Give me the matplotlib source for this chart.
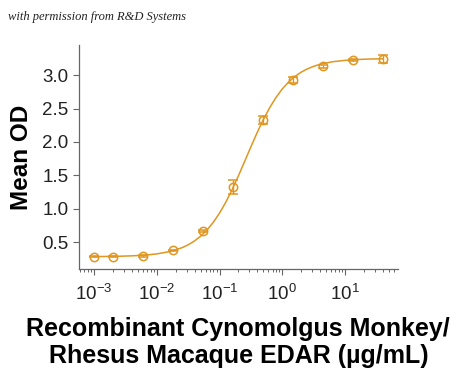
import numpy as np
import matplotlib
matplotlib.use("Agg")
import matplotlib.pyplot as plt
from matplotlib.ticker import LogLocator, NullFormatter

plt.rcParams['font.family'] = ['Liberation Sans', 'DejaVu Sans']
plt.rcParams['mathtext.default'] = 'regular'

# [Data]______________________________________________________________________
conc = [0.001, 0.002, 0.0061, 0.0183, 0.0549, 0.165, 0.494, 1.48, 4.44, 13.3, 40]
od = [0.28, 0.28, 0.29, 0.375, 0.665, 1.32, 2.33, 2.925, 3.13, 3.22, 3.235]
err = [0.01, 0.01, 0.01, 0.01, 0.02, 0.105, 0.055, 0.045, 0.025, 0.015, 0.06]

# fitted curve
curve_logx = [-3.0, -2.8, -2.6, -2.4, -2.2, -2.0, -1.8, -1.6, -1.5, -1.4, -1.3, -1.2, -1.1,
              -1.0, -0.9, -0.8, -0.7, -0.6, -0.5, -0.4, -0.3, -0.2, -0.1, 0.0, 0.1, 0.2,
              0.3, 0.4, 0.5, 0.6, 0.8, 1.0, 1.2, 1.4, 1.6]
curve_od = [0.282, 0.284, 0.287, 0.293, 0.303, 0.322, 0.356, 0.414, 0.458, 0.515, 0.588, 0.680,
            0.794, 0.933, 1.096, 1.283, 1.489, 1.706, 1.926, 2.139, 2.337, 2.513, 2.665, 2.793,
            2.896, 2.979, 3.044, 3.094, 3.132, 3.162, 3.201, 3.222, 3.235, 3.242, 3.245]

col = '#E0961F'

# [Plot]______________________________________________________________________
fig = plt.figure(figsize=(4.5, 3.7), dpi=100)
ax = fig.add_axes([0.1756, 0.273, 0.708, 0.605])

ax.plot([10 ** v for v in curve_logx], curve_od, color=col, lw=1.1)
ax.errorbar(conc, od, yerr=err, fmt='o', mfc='none', mec=col, ecolor=col, mew=1.1,
            ms=6, capsize=3.5, elinewidth=1.0, capthick=1.0)

ax.set_xscale('log')
ax.set_xlim(10 ** -3.24, 10 ** 1.84)
ax.set_ylim(0.096, 3.45)
ax.set_yticks([0.5, 1.0, 1.5, 2.0, 2.5, 3.0])
ax.set_yticklabels(['0.5', '1.0', '1.5', '2.0', '2.5', '3.0'])
ax.xaxis.set_major_locator(LogLocator(base=10, numticks=10))
ax.xaxis.set_minor_locator(LogLocator(base=10, subs=np.arange(2, 10), numticks=20))
ax.xaxis.set_minor_formatter(NullFormatter())

for s in ['top', 'right']:
    ax.spines[s].set_visible(False)
for s in ['left', 'bottom']:
    ax.spines[s].set_color('#666666')
    ax.spines[s].set_linewidth(0.9)

ax.tick_params(axis='y', which='major', length=4, width=0.8, color='#666666',
               labelsize=13.5, labelcolor='#222222')
ax.tick_params(axis='x', which='major', length=4, width=0.8, color='#666666',
               labelsize=13.5, labelcolor='#222222', pad=7)
ax.tick_params(axis='x', which='minor', length=2.5, width=0.7, color='#666666')

ax.set_ylabel('Mean OD', fontsize=17.5, fontweight='bold', labelpad=7)
ax.set_xlabel('Recombinant Cynomolgus Monkey/\nRhesus Macaque EDAR (\u00b5g/mL)',
              fontsize=18, fontweight='bold', labelpad=9, linespacing=1.15)

fig.text(0.018, 0.955, 'with permission from R&D Systems', fontsize=9,
         family='Liberation Serif', style='italic', color='#222222', va='center')

plt.savefig('out.png', dpi=100)
